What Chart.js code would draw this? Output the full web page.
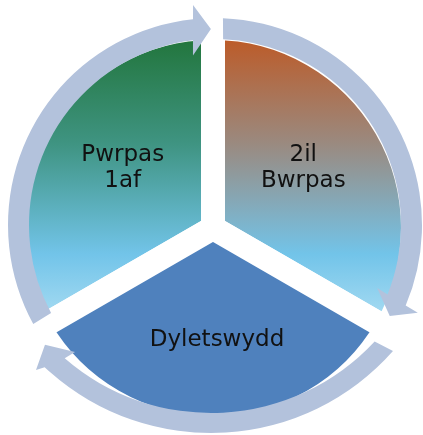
<!DOCTYPE html>
<html>
<head>
<meta charset="utf-8">
<script src="https://cdn.jsdelivr.net/npm/chart.js@4.4.0/dist/chart.umd.min.js"></script>
<style>
  html, body { margin: 0; padding: 0; background: #ffffff; }
  canvas { display: block; }
</style>
</head>
<body>
<canvas id="cycle" width="423" height="435"></canvas>
<script>
// segmented cycle: three equal segments, clockwise from the top-left one
const segments = ['Pwrpas 1af', '2il Bwrpas', 'Dyletswydd'];
const segmentValues = [1, 1, 1];
const segmentLines = [['Pwrpas', '1af'], ['2il', 'Bwrpas'], ['Dyletswydd']];

// ----- styles -----
const PIE_R = 200;
const GAP = 24;
const RING = '#b3c2dc';
const LIGHT_BLUE = '#72c4e9';
const PALE_BLUE = '#a6dbf2';
const fills = [
  { top: '#1f7235', mid: '#3f9482' },
  { top: '#c0561f', mid: '#9a8a80' },
  '#4f81bd'
];
const labelShift = [[5, -5], [-5, -5], [4, 2]];

// ring arrows, polar params around pie centre (+dx, dy)
const arrows = [
  { dx: 2, dy: -3, ri: 186, ro: 207, startIn: 151.8, startOut: 151.4, endIn: 263.2, endOut: 263.9,
    barbIn: [262.6, 171], barbOut: [264.3, 221], tip: [268.8, 196] },
  { dx: 2, dy: -3, ri: 186, ro: 207, startIn: 272.5, startOut: 272.2, endIn: 381.9, endOut: 382.9,
    barbIn: [381.25, 174], barbOut: [383.4, 221], tip: [387.5, 197] },
  { dx: -2, dy: -38, ri: 223, ro: 243, startIn: 42.8, startOut: 41.5, endIn: 131, endOut: 133.2,
    barbIn: [130, 211.5], barbOut: [134.2, 251], tip: [137, 227] }
];

const rad = d => d * Math.PI / 180;

function pieCentre(chart) {
  const a = chart.chartArea;
  return { x: (a.left + a.right) / 2, y: (a.top + a.bottom) / 2 };
}

function segmentFill(c) {
  const f = fills[c.dataIndex];
  if (typeof f === 'string') return f;
  const chart = c.chart;
  if (!chart.chartArea) return f.top;
  const { y } = pieCentre(chart);
  const g = chart.ctx.createLinearGradient(0, y - PIE_R, 0, y + PIE_R * 0.45);
  g.addColorStop(0, f.top);
  g.addColorStop(0.4, f.mid);
  g.addColorStop(0.78, LIGHT_BLUE);
  g.addColorStop(1, PALE_BLUE);
  return g;
}

function drawArrow(ctx, cx, cy, a) {
  const p = (deg, r) => [cx + r * Math.cos(rad(deg)), cy + r * Math.sin(rad(deg))];
  ctx.beginPath();
  ctx.moveTo(...p(a.startOut, a.ro));
  ctx.arc(cx, cy, a.ro, rad(a.startOut), rad(a.endOut));
  ctx.lineTo(...p(a.barbOut[0], a.barbOut[1]));
  ctx.lineTo(...p(a.tip[0], a.tip[1]));
  ctx.lineTo(...p(a.barbIn[0], a.barbIn[1]));
  ctx.lineTo(...p(a.endIn, a.ri));
  ctx.arc(cx, cy, a.ri, rad(a.endIn), rad(a.startIn), true);
  ctx.closePath();
  ctx.fill();
}

const cyclePlugin = {
  id: 'cycle',
  afterDatasetsDraw(chart) {
    const ctx = chart.ctx;
    const c = pieCentre(chart);
    ctx.save();
    ctx.fillStyle = RING;
    arrows.forEach(a => drawArrow(ctx, c.x + a.dx, c.y + a.dy, a));
    ctx.restore();
  },
  afterDraw(chart) {
    const ctx = chart.ctx;
    const meta = chart.getDatasetMeta(0);
    ctx.save();
    ctx.fillStyle = '#111111';
    ctx.font = '23px "DejaVu Sans"';
    ctx.textAlign = 'center';
    ctx.textBaseline = 'middle';
    meta.data.forEach((arc, i) => {
      const mid = (arc.startAngle + arc.endAngle) / 2;
      const r = PIE_R * 0.55;
      const x = arc.x + r * Math.cos(mid) + labelShift[i][0];
      const y = arc.y + r * Math.sin(mid) + labelShift[i][1];
      const lines = segmentLines[i];
      lines.forEach((t, k) => ctx.fillText(t, x, y + (k - (lines.length - 1) / 2) * 26));
    });
    ctx.restore();
  }
};

new Chart(document.getElementById('cycle'), {
  type: 'pie',
  data: {
    labels: segments,
    datasets: [{
      data: segmentValues,
      backgroundColor: segmentFill,
      borderColor: '#ffffff',
      borderWidth: GAP
    }]
  },
  options: {
    responsive: false,
    animation: false,
    events: [],
    radius: PIE_R,
    rotation: -120,
    layout: { padding: { left: 3, right: 0, top: 21, bottom: 0 } },
    plugins: { legend: { display: false }, tooltip: { enabled: false } }
  },
  plugins: [cyclePlugin]
});
</script>
</body>
</html>
